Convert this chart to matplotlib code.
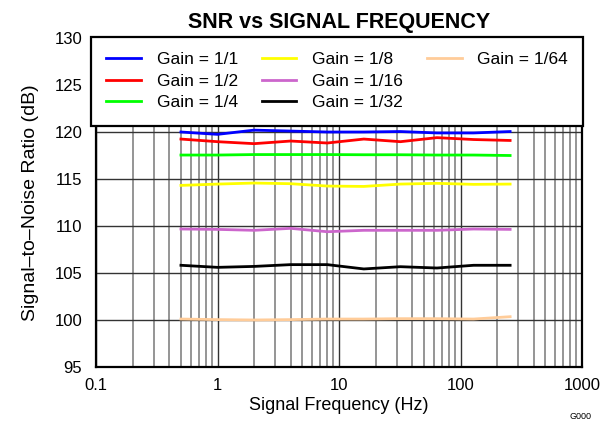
import matplotlib
matplotlib.use("Agg")
import matplotlib.pyplot as plt
from matplotlib.lines import Line2D
from matplotlib.ticker import FixedLocator, FuncFormatter, LogLocator, NullFormatter

plt.rcParams['font.family'] = ['Liberation Sans', 'DejaVu Sans']

freq = [0.5, 1, 2, 4, 8, 16, 32, 64, 128, 256]
gain_labels = ["Gain = 1/1", "Gain = 1/2", "Gain = 1/4", "Gain = 1/8",
               "Gain = 1/16", "Gain = 1/32", "Gain = 1/64"]
snr_1 = [120.0, 119.75, 120.2, 120.1, 120.0, 120.0, 120.05, 119.9, 119.9, 120.05]
snr_2 = [119.25, 118.97, 118.76, 119.04, 118.83, 119.25, 118.97, 119.4, 119.2, 119.1]
snr_4 = [117.55, 117.55, 117.6, 117.6, 117.6, 117.58, 117.58, 117.55, 117.55, 117.5]
snr_8 = [114.32, 114.46, 114.57, 114.5, 114.25, 114.21, 114.46, 114.54, 114.43, 114.46]
snr_16 = [109.68, 109.64, 109.54, 109.75, 109.39, 109.54, 109.54, 109.54, 109.68, 109.64]
snr_32 = [105.82, 105.6, 105.7, 105.89, 105.89, 105.43, 105.67, 105.53, 105.82, 105.82]
snr_64 = [100.1, 100.04, 100.0, 100.04, 100.1, 100.1, 100.14, 100.14, 100.1, 100.35]
series = [snr_1, snr_2, snr_4, snr_8, snr_16, snr_32, snr_64]
colors = ["#0000FF", "#FF0000", "#00FF00", "#FFFF00", "#CC66CC", "#000000", "#FFCC99"]

x_ticks = [0.1, 1, 10, 100, 1000]
y_ticks = [95, 100, 105, 110, 115, 120, 125, 130]

fig = plt.figure(figsize=(6.12, 4.36), dpi=100)
ax = fig.add_axes([0.1569, 0.1583, 0.7941, 0.7545])

handles = []
for ys, c, lab in zip(series, colors, gain_labels):
    h, = ax.plot(freq, ys, color=c, lw=2.0, label=lab, zorder=3)
    handles.append(h)

ax.set_xscale('log')
ax.set_xlim(0.1, 1000)
ax.set_ylim(95, 130)
ax.xaxis.set_major_locator(FixedLocator(x_ticks))
ax.xaxis.set_major_formatter(FuncFormatter(lambda v, p: f"{v:g}"))
ax.xaxis.set_minor_locator(LogLocator(base=10, subs=range(2, 10)))
ax.xaxis.set_minor_formatter(NullFormatter())
ax.yaxis.set_major_locator(FixedLocator(y_ticks))

ax.grid(which='major', color='#333333', lw=1.0, zorder=1)
ax.grid(which='minor', axis='x', color='#8c8c8c', lw=1.3, zorder=1)
ax.set_axisbelow(True)
ax.tick_params(which='both', direction='in', length=0, labelsize=12)
ax.tick_params(axis='y', pad=10)
ax.tick_params(axis='x', pad=8)
for s in ax.spines.values():
    s.set_linewidth(1.6)

ax.set_xlabel("Signal Frequency (Hz)", fontsize=13, labelpad=3)
ax.set_ylabel("Signal\u2013to\u2013Noise Ratio (dB)", fontsize=14, labelpad=11)
ax.set_title("SNR vs SIGNAL FREQUENCY", fontsize=15.5, fontweight='bold', pad=7)

blank = Line2D([], [], color='none')
leg_h = handles[:6] + [handles[6], blank, blank]
leg_l = gain_labels[:6] + [gain_labels[6], "", ""]
leg = ax.legend(leg_h, leg_l, ncol=3, loc='upper left',
                bbox_to_anchor=(-0.01, 1.003, 1.012, 0.0), mode='expand',
                borderaxespad=0, fancybox=False, framealpha=1, edgecolor='black',
                fontsize=12.5, handlelength=2.0, handletextpad=0.9,
                labelspacing=0.37, borderpad=0.87, columnspacing=1.8)
leg.get_frame().set_linewidth(1.6)
for l in leg.get_lines():
    l.set_linewidth(2.0)
leg.set_zorder(5)

fig.text(0.967, 0.045, "G000", fontsize=6.5, ha='right', va='center')

fig.savefig("out.png", dpi=100)
